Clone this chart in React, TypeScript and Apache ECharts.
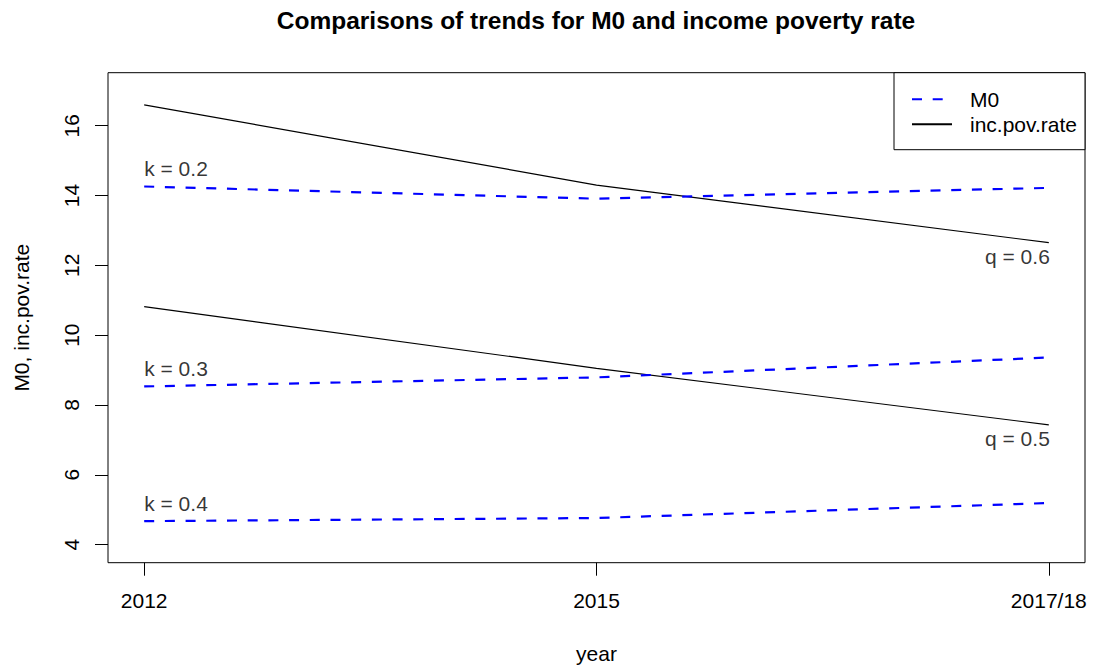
import React, { useEffect, useRef } from "react";
import * as echarts from "echarts";

const years = ["2012", "2015", "2017/18"];
const xPos = [1, 2, 3];
const yTicks = [4, 6, 8, 10, 12, 14, 16];

const m0K02 = [14.26, 13.91, 14.22];
const m0K03 = [8.53, 8.79, 9.36];
const m0K04 = [4.67, 4.76, 5.19];
const povQ06 = [16.6, 14.3, 12.65];
const povQ05 = [10.82, 9.05, 7.43];

const kLabels = ["k = 0.2", "k = 0.3", "k = 0.4"];
const qLabels = ["q = 0.6", "q = 0.5"];

const FONT = "Liberation Sans, Arial, Helvetica, sans-serif";
const FS = 21;

export default function App() {
  const ref = useRef<HTMLDivElement>(null);
  useEffect(() => {
    if (!ref.current) return;
    const chart = echarts.init(ref.current, null, { renderer: "svg" });
    const toPts = (arr: number[]) => arr.map((v, i) => [xPos[i], v]);
    const m0Series = [m0K02, m0K03, m0K04];
    const povSeries = [povQ06, povQ05];
    const series: any[] = [];
    m0Series.forEach((arr) => {
      series.push({
        name: "M0",
        type: "line",
        data: toPts(arr),
        symbol: "none",
        lineStyle: { color: "#0000ff", width: 2.2, type: [10, 10.7], cap: "butt" },
        itemStyle: { color: "#0000ff" },
        z: 3,
      });
    });
    povSeries.forEach((arr) => {
      series.push({
        name: "inc.pov.rate",
        type: "line",
        data: toPts(arr),
        symbol: "none",
        lineStyle: { color: "#000000", width: 1.2, type: "solid" },
        itemStyle: { color: "#000000" },
        z: 2,
      });
    });
    const labelBase = {
      show: true,
      position: "inside",
      verticalAlign: "middle",
      formatter: (p: any) => p.name,
      color: "#000",
      fontSize: FS,
      fontFamily: FONT,
      textBorderWidth: 0,
      textBorderColor: "transparent",
    };
    series.push({
      name: "kLabels",
      type: "scatter",
      symbolSize: 1,
      itemStyle: { color: "rgba(0,0,0,0)" },
      data: m0Series.map((arr, i) => ({ value: [xPos[0], arr[0]], name: kLabels[i] })),
      label: { ...labelBase, align: "left", offset: [0, -18] },
      silent: true,
    });
    series.push({
      name: "qLabels",
      type: "scatter",
      symbolSize: 1,
      itemStyle: { color: "rgba(0,0,0,0)" },
      data: povSeries.map((arr, i) => ({ value: [xPos[2], arr[2]], name: qLabels[i] })),
      label: { ...labelBase, align: "right", offset: [1, 14] },
      silent: true,
    });

    chart.setOption({
      animation: false,
      backgroundColor: "#ffffff",
      textStyle: { fontFamily: FONT },
      title: {
        text: "Comparisons of trends for M0 and income poverty rate",
        left: 591,
        textAlign: "center",
        top: 3,
        textStyle: { fontSize: 24.5, fontWeight: "bold", color: "#000", fontFamily: FONT },
      },
      legend: {
        data: ["M0", "inc.pov.rate"],
        orient: "vertical",
        right: 11,
        top: 72.7,
        borderColor: "#000",
        borderWidth: 1,
        padding: [16, 8, 15, 17],
        itemWidth: 40,
        itemHeight: 14,
        itemGap: 4,
        itemStyle: { color: "rgba(0,0,0,0)", borderWidth: 0, opacity: 0 },
        textStyle: {
          fontSize: FS,
          color: "#000",
          fontFamily: FONT,
          lineHeight: 20,
          padding: [0, 0, 0, 13],
        },
        backgroundColor: "#fff",
      },
      grid: {
        left: 108,
        right: 11,
        top: 72.7,
        bottom: 107.3,
        show: true,
        borderColor: "#000",
        borderWidth: 1,
        backgroundColor: "transparent",
      },
      xAxis: {
        type: "value",
        min: 0.92,
        max: 3.08,
        name: "year",
        nameLocation: "middle",
        nameGap: 80,
        nameTextStyle: { fontSize: FS, color: "#000", fontFamily: FONT },
        axisLine: { show: false },
        splitLine: { show: false },
        axisTick: {
          show: true,
          length: 13,
          customValues: xPos,
          lineStyle: { color: "#000", width: 1 },
        },
        axisLabel: {
          customValues: xPos,
          margin: 27,
          fontSize: FS,
          color: "#000",
          fontFamily: FONT,
          formatter: (v: number) => years[Math.round(v) - 1] ?? "",
        },
      },
      yAxis: {
        type: "value",
        min: 3.48,
        max: 17.52,
        name: "M0, inc.pov.rate",
        nameLocation: "middle",
        nameGap: 76,
        nameTextStyle: { fontSize: FS, color: "#000", fontFamily: FONT },
        axisLine: { show: false },
        splitLine: { show: false },
        axisTick: {
          show: true,
          length: 13,
          customValues: yTicks,
          lineStyle: { color: "#000", width: 1 },
        },
        axisLabel: {
          customValues: yTicks,
          rotate: 90,
          margin: 26,
          fontSize: FS,
          color: "#000",
          fontFamily: FONT,
        },
      },
      series,
    });
    return () => chart.dispose();
  }, []);
  return (
    <div
      ref={ref}
      style={{ position: "fixed", left: 0, top: 0, width: 1096, height: 670, background: "#fff" }}
    />
  );
}
